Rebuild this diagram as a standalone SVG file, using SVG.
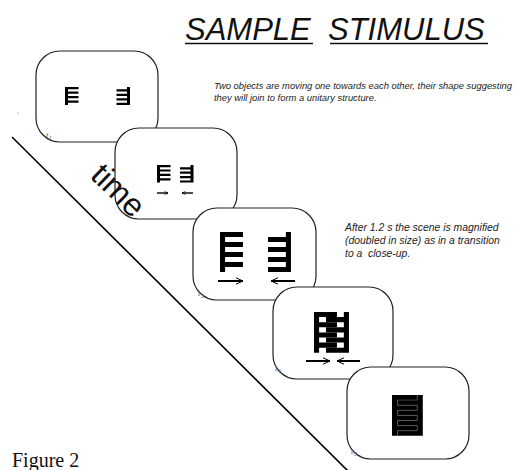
<svg xmlns="http://www.w3.org/2000/svg" xmlns:xlink="http://www.w3.org/1999/xlink" width="517" height="470" viewBox="0 0 517 470">
<style>
.frame{fill:#fff;stroke:#222;stroke-width:1.2}
.ink{fill:#000}
.title{font-family:"Liberation Sans",Arial,sans-serif;font-style:italic;font-size:31px;fill:#111}
.desc{font-family:"Liberation Sans",Arial,sans-serif;font-style:italic;font-size:9.4px;fill:#222}
.desc2{font-family:"Liberation Sans",Arial,sans-serif;font-style:italic;font-size:10.4px;fill:#222}
.tl{font-family:"Liberation Sans",Arial,sans-serif;font-style:italic;font-size:8px;fill:#666}
.sub{font-size:5.5px}
.arrow{stroke:#000;stroke-width:2;fill:none}
.arrows{stroke:#000;stroke-width:1.4;fill:none}
.seam{fill:none;stroke:#6a6a6a;stroke-width:0.6}
</style>
<defs>
<path id="objL" d="M0,0h4.5v1H1v1h3.5v1H1v1h3.5v1H1v1h3.5v1H1v1H0z"/>
<path id="objR" d="M4.5,0v8H0v-1h3.5v-1H0v-1h3.5v-1H0v-1h3.5v-1H0v-1h3.5V0z"/>
<marker id="ah" viewBox="0 0 8 8" refX="7.5" refY="4" markerWidth="8" markerHeight="8" markerUnits="userSpaceOnUse" orient="auto">
<path d="M0.5,0.8 L7.5,4 L0.5,7.2" fill="none" stroke="#000" stroke-width="1"/>
</marker>
<marker id="ahs" viewBox="0 0 8 8" refX="7.5" refY="4" markerWidth="4" markerHeight="4" markerUnits="userSpaceOnUse" orient="auto">
<path d="M0.5,0.8 L7.5,4 L0.5,7.2" fill="none" stroke="#000" stroke-width="1.4"/>
</marker>
</defs>

<g id="title">
<text class="title" x="185" y="40" xml:space="preserve">SAMPLE  STIMULUS</text>
<line x1="185" y1="43.5" x2="313" y2="43.5" stroke="#111" stroke-width="1.5"/>
<line x1="330" y1="43.5" x2="488" y2="43.5" stroke="#111" stroke-width="1.5"/>
</g>

<g id="connectors">
<line x1="12" y1="137" x2="348" y2="471" stroke="#000" stroke-width="1.6"/>
</g>
<circle cx="18" cy="113" r="0.7" fill="#aaa"/>

<g id="frame1">
<rect class="frame" x="36" y="51" width="122" height="91" rx="24" ry="24"/>
<use xlink:href="#objL" class="ink" transform="translate(65,87) scale(3,2.25)"/>
<use xlink:href="#objR" class="ink" transform="translate(116.5,87) scale(3,2.25)"/>
<text class="tl" x="46" y="138">t<tspan class="sub" dx="0.5" dy="2">1</tspan></text>
</g>

<g id="frame2">
<rect class="frame" x="115" y="128" width="122" height="91" rx="24" ry="24"/>
<use xlink:href="#objL" class="ink" transform="translate(157,165) scale(3,2.2)"/>
<use xlink:href="#objR" class="ink" transform="translate(180,165) scale(3,2.2)"/>
<line class="arrows" x1="157" y1="193" x2="168" y2="193" marker-end="url(#ahs)"/>
<line class="arrows" x1="193" y1="193" x2="182" y2="193" marker-end="url(#ahs)"/>
</g>

<g id="time-label">
<text x="89" y="177" transform="rotate(44 89 177)" font-family="Liberation Sans, Arial, sans-serif" font-size="32" fill="#111">time</text>
</g>

<g id="frame3">
<rect class="frame" x="193" y="208" width="123" height="92" rx="24" ry="24"/>
<use xlink:href="#objL" class="ink" transform="translate(220,232) scale(5.1,5)"/>
<use xlink:href="#objR" class="ink" transform="translate(268,232) scale(5.1,5)"/>
<line class="arrow" x1="218" y1="281" x2="243" y2="281" marker-end="url(#ah)"/>
<line class="arrow" x1="295" y1="281" x2="271" y2="281" marker-end="url(#ah)"/>
<text class="tl" x="198" y="296">t<tspan class="sub" dx="0.5" dy="2">3</tspan></text>
</g>

<g id="frame4">
<rect class="frame" x="273" y="287" width="120" height="92" rx="24" ry="24"/>
<use xlink:href="#objL" class="ink" transform="translate(314,312) scale(5.1,5.1)"/>
<use xlink:href="#objR" class="ink" transform="translate(326,312) scale(5.1,5.1)"/>
<line class="arrow" x1="306" y1="361" x2="330" y2="361" marker-end="url(#ah)"/>
<line class="arrow" x1="360" y1="361" x2="337" y2="361" marker-end="url(#ah)"/>
<text class="tl" x="275" y="371">t<tspan class="sub" dx="0.5" dy="2">4</tspan></text>
</g>

<g id="frame5">
<rect class="frame" x="347" y="367" width="122" height="92" rx="24" ry="24"/>
<use xlink:href="#objL" class="ink" transform="translate(392,395) scale(5.6,5.1)"/>
<use xlink:href="#objR" class="ink" transform="translate(397.6,395) scale(5.6,5.1)"/>
<path class="seam" transform="translate(392,395) scale(5.6,5.1)" vector-effect="non-scaling-stroke" d="M4.5,0V1H1V2H4.5V3H1V4H4.5V5H1V6H4.5V7H1V8"/>
<text class="tl" x="351" y="454">t<tspan class="sub" dx="0.5" dy="2">5</tspan></text>
</g>

<g id="notes">
<text class="desc" x="214" y="89">Two objects are moving one towards each other, their shape suggesting</text>
<text class="desc" x="214" y="101">they will join to form a unitary structure.</text>
<text class="desc2" x="345" y="231">After 1.2 s the scene is magnified</text>
<text class="desc2" x="345" y="244">(doubled in size) as in a transition</text>
<text class="desc2" x="345" y="257" xml:space="preserve">to a  close-up.</text>
</g>

<text x="12" y="467" font-family="Liberation Serif, Times New Roman, serif" font-size="20" fill="#111">Figure 2</text>
</svg>
